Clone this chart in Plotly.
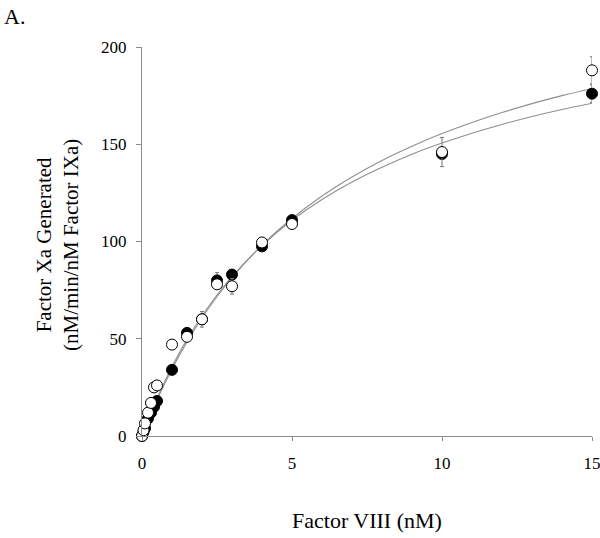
import plotly.graph_objects as go

# Data
conc = [0, 0.05, 0.1, 0.2, 0.3, 0.4, 0.5, 1, 1.5, 2, 2.5, 3, 4, 5, 10, 15]
filled_y = [0, 2, 4, 9, 12, 15, 18, 34, 53, 60, 80, 83, 97.5, 111, 145, 176]
filled_err = [0, 0, 0, 0, 0, 0, 0, 0, 0, 0, 4, 0, 0, 0, 0, 4.5]
open_y = [0, 3, 6.5, 12, 17, 25, 26, 47, 51, 60, 78, 77, 99.5, 109, 146, 188]
open_err = [0, 0, 0, 0, 0, 0, 0, 0, 0, 4, 0, 4, 0, 0, 7.5, 7]

fit_x = [0, 0.5, 1, 1.5, 2, 2.5, 3, 4, 5, 6, 7, 8, 9, 10, 11, 12, 13, 14, 15]
fit_upper = [0, 18.5, 34.5, 48.4, 60.7, 71.6, 81.4, 98.1, 111.8, 123.4, 133.2,
             141.7, 149.0, 155.5, 161.2, 166.3, 170.9, 175.0, 178.7]
fit_lower = [0, 19.3, 35.6, 49.7, 61.8, 72.5, 82.0, 97.9, 110.9, 121.6, 130.6,
             138.2, 144.9, 150.6, 155.7, 160.2, 164.3, 167.9, 171.1]

x_ticks = [0, 5, 10, 15]
y_ticks = [0, 50, 100, 150, 200]

FONT = "Liberation Serif, Times New Roman, serif"
W, H = 600, 538
ML, MR, MT, MB = 142, 8, 47, 102

fig = go.Figure()
fig.add_trace(go.Scatter(x=fit_x, y=fit_upper, mode="lines", line_shape="spline",
                         line=dict(color="#8f8f8f", width=1.1), hoverinfo="skip"))
fig.add_trace(go.Scatter(x=fit_x, y=fit_lower, mode="lines", line_shape="spline",
                         line=dict(color="#8f8f8f", width=1.1), hoverinfo="skip"))
fig.add_trace(go.Scatter(x=conc, y=filled_y, mode="markers",
                         error_y=dict(type="data", array=filled_err, visible=True,
                                      color="#777777", thickness=1, width=2),
                         marker=dict(symbol="circle", size=11, color="black",
                                     line=dict(color="black", width=1)),
                         cliponaxis=False))
fig.add_trace(go.Scatter(x=conc, y=open_y, mode="markers",
                         error_y=dict(type="data", array=open_err, visible=True,
                                      color="#777777", thickness=1, width=2),
                         marker=dict(symbol="circle", size=11, color="white",
                                     line=dict(color="black", width=1)),
                         cliponaxis=False))


def px_x(p):
    return (p - ML) / (W - ML - MR)


def px_y(p):
    return (H - MB - p) / (H - MT - MB)


fig.update_layout(
    width=W, height=H,
    paper_bgcolor="white", plot_bgcolor="white",
    showlegend=False,
    margin=dict(l=ML, r=MR, t=MT, b=MB, autoexpand=False),
    font=dict(family=FONT, size=17, color="black"),
    xaxis=dict(range=[0, 15], tickvals=x_ticks, showline=True, linecolor="#8c8c8c",
               linewidth=1, ticks="outside", ticklen=4, tickcolor="#8c8c8c",
               showgrid=False, zeroline=False, ticklabelstandoff=8,
               ticklabeloverflow="allow", automargin=False,
               tickfont=dict(family=FONT, size=17)),
    yaxis=dict(range=[0, 200], tickvals=y_ticks, showline=True, linecolor="#8c8c8c",
               linewidth=1, ticks="outside", ticklen=5, tickcolor="#8c8c8c",
               showgrid=False, zeroline=False, ticklabelstandoff=6,
               ticklabeloverflow="allow", automargin=False,
               tickfont=dict(family=FONT, size=17)),
    annotations=[
        dict(text="A.", x=px_x(2), y=px_y(2), xref="paper", yref="paper",
             showarrow=False, xanchor="left", yanchor="top",
             font=dict(family=FONT, size=22)),
        dict(text="Factor VIII (nM)", x=px_x(367), y=px_y(520), xref="paper",
             yref="paper", showarrow=False, xanchor="center", yanchor="middle",
             font=dict(family=FONT, size=22)),
        dict(text="Factor Xa Generated<br>(nM/min/nM Factor IXa)", x=px_x(58),
             y=px_y(245), xref="paper", yref="paper", showarrow=False,
             textangle=-90, xanchor="center", yanchor="middle",
             font=dict(family=FONT, size=21)),
    ],
)

fig.write_html("out.html", config={"displayModeBar": False},
               post_script="document.body.style.margin='0';document.body.style.overflow='hidden';")
